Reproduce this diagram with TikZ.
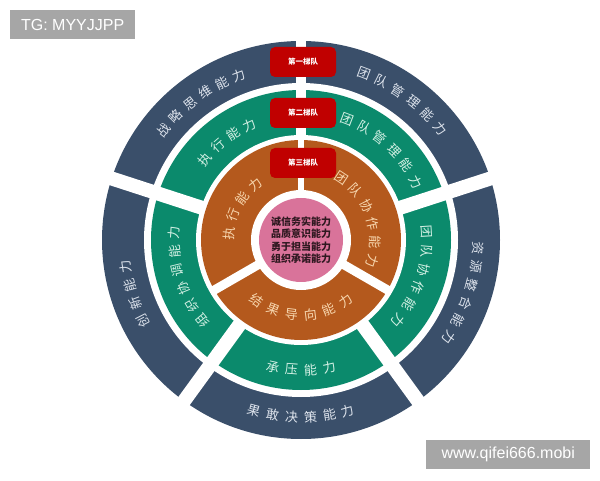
\documentclass[tikz,border=0pt]{standalone}
\usepackage{fontspec}
\setmainfont{Liberation Sans}
\newfontfamily\cjk{Noto Sans CJK SC}

\definecolor{ringblue}{HTML}{3A4F6A}
\definecolor{ringgreen}{HTML}{0B8A6C}
\definecolor{ringorange}{HTML}{B4591D}
\definecolor{corepink}{HTML}{D9739A}
\definecolor{teamred}{HTML}{C00000}
\definecolor{blueink}{HTML}{DDE3EC}
\definecolor{greenink}{HTML}{D3F0E4}
\definecolor{orangeink}{HTML}{F7D6AE}
\definecolor{coreink}{HTML}{2E1820}
\definecolor{taggrey}{HTML}{A6A6A6}

\tikzset{
  ringchar/.style={inner sep=0pt, font=\cjk\fontsize{13}{13}\selectfont},
  bluechar/.style={ringchar, text=blueink},
  greenchar/.style={ringchar, text=greenink},
  orangechar/.style={ringchar, text=orangeink},
  teambox/.style={fill=teamred, rounded corners=5pt, minimum width=66pt,
    minimum height=30pt, inner sep=0pt, text=white,
    font=\cjk\bfseries\fontsize{7.5}{8}\selectfont},
  gapline/.style={draw=white, line width=14pt},
  tag/.style={fill=taggrey, text=white, inner sep=0pt, minimum height=29pt,
    font=\fontsize{16}{16}\selectfont}
}

% #1 name, #2 radius, #3 middle angle, #4 number of characters, #5 style, #6 characters
\newcommand{\cwtext}[6]{%
  \pgfmathsetmacro{\charstep}{19/#2*57.2958}
  \foreach \ch [count=\i] in {#6} {
    \pgfmathsetmacro{\ang}{#3+((#4+1)/2-\i)*\charstep}
    \node[#5, rotate=\ang-90] (#1-\i) at (\ang:#2) {\ch};
  }}
\newcommand{\ccwtext}[6]{%
  \pgfmathsetmacro{\charstep}{19/#2*57.2958}
  \foreach \ch [count=\i] in {#6} {
    \pgfmathsetmacro{\ang}{#3-((#4+1)/2-\i)*\charstep}
    \node[#5, rotate=\ang+90] (#1-\i) at (\ang:#2) {\ch};
  }}

\begin{document}
\begin{tikzpicture}[x=1pt, y=1pt]
  \useasboundingbox (0,0) rectangle (600,480);

  \begin{scope}[shift={(301,240)}]
    % rings
    \fill[ringblue] (0,0) circle (199);
    \fill[white] (0,0) circle (157);
    \fill[ringgreen] (0,0) circle (150);
    \fill[white] (0,0) circle (105);
    \fill[ringorange] (0,0) circle (100);
    \fill[white] (0,0) circle (50);
    \fill[corepink] (0,0) circle (42);

    % gaps
    \foreach \a in {162,234,306,18}
      \draw[gapline] (\a:102) -- (\a:206);
    \draw[gapline, line width=10pt] (90:102) -- (90:206);
    \foreach \a in {210,330}
      \draw[gapline, line width=9pt] (\a:45) -- (\a:103);
    \draw[gapline, line width=6pt] (90:45) -- (90:103);

    % outer ring
    \cwtext{strat}{176}{126}{6}{bluechar}{战,略,思,维,能,力}
    \cwtext{mgmt}{178}{54}{6}{bluechar}{团,队,管,理,能,力}
    \cwtext{res}{177}{-18}{6}{bluechar}{资,源,整,合,能,力}
    \ccwtext{dec}{177}{270}{6}{bluechar}{果,敢,决,策,能,力}
    \cwtext{inno}{177}{198}{4}{bluechar}{创,新,能,力}

    % middle ring
    \cwtext{exec2}{126}{127}{4}{greenchar}{执,行,能,力}
    \cwtext{mgmt2}{129}{48}{6}{greenchar}{团,队,管,理,能,力}
    \cwtext{coop2}{126}{-18}{6}{greenchar}{团,队,协,作,能,力}
    \ccwtext{press}{130}{270}{4}{greenchar}{承,压,能,力}
    \cwtext{org}{127}{198}{6}{greenchar}{组,织,协,调,能,力}

    % inner ring
    \cwtext{exec3}{72}{152}{4}{orangechar}{执,行,能,力}
    \cwtext{coop3}{74}{20}{6}{orangechar}{团,队,协,作,能,力}
    \ccwtext{result}{75}{270}{6}{orangechar}{结,果,导,向,能,力}

    % core
    \node[align=center, text=coreink, inner sep=0pt,
      font=\cjk\bfseries\fontsize{10}{12.5}\selectfont] (core) at (0,0)
      {诚信务实能力\\品质意识能力\\勇于担当能力\\组织承诺能力};

    % team labels
    \node[teambox] (team1) at (2,178) {第一梯队};
    \node[teambox] (team2) at (2,127) {第二梯队};
    \node[teambox] (team3) at (2,77) {第三梯队};
  \end{scope}

  \node[tag, anchor=north west, minimum width=125pt] (tg) at (10,470) {TG: MYYJJPP};
  \node[tag, anchor=south west, minimum width=164pt] (site) at (426,11) {www.qifei666.mobi};
\end{tikzpicture}
\end{document}
